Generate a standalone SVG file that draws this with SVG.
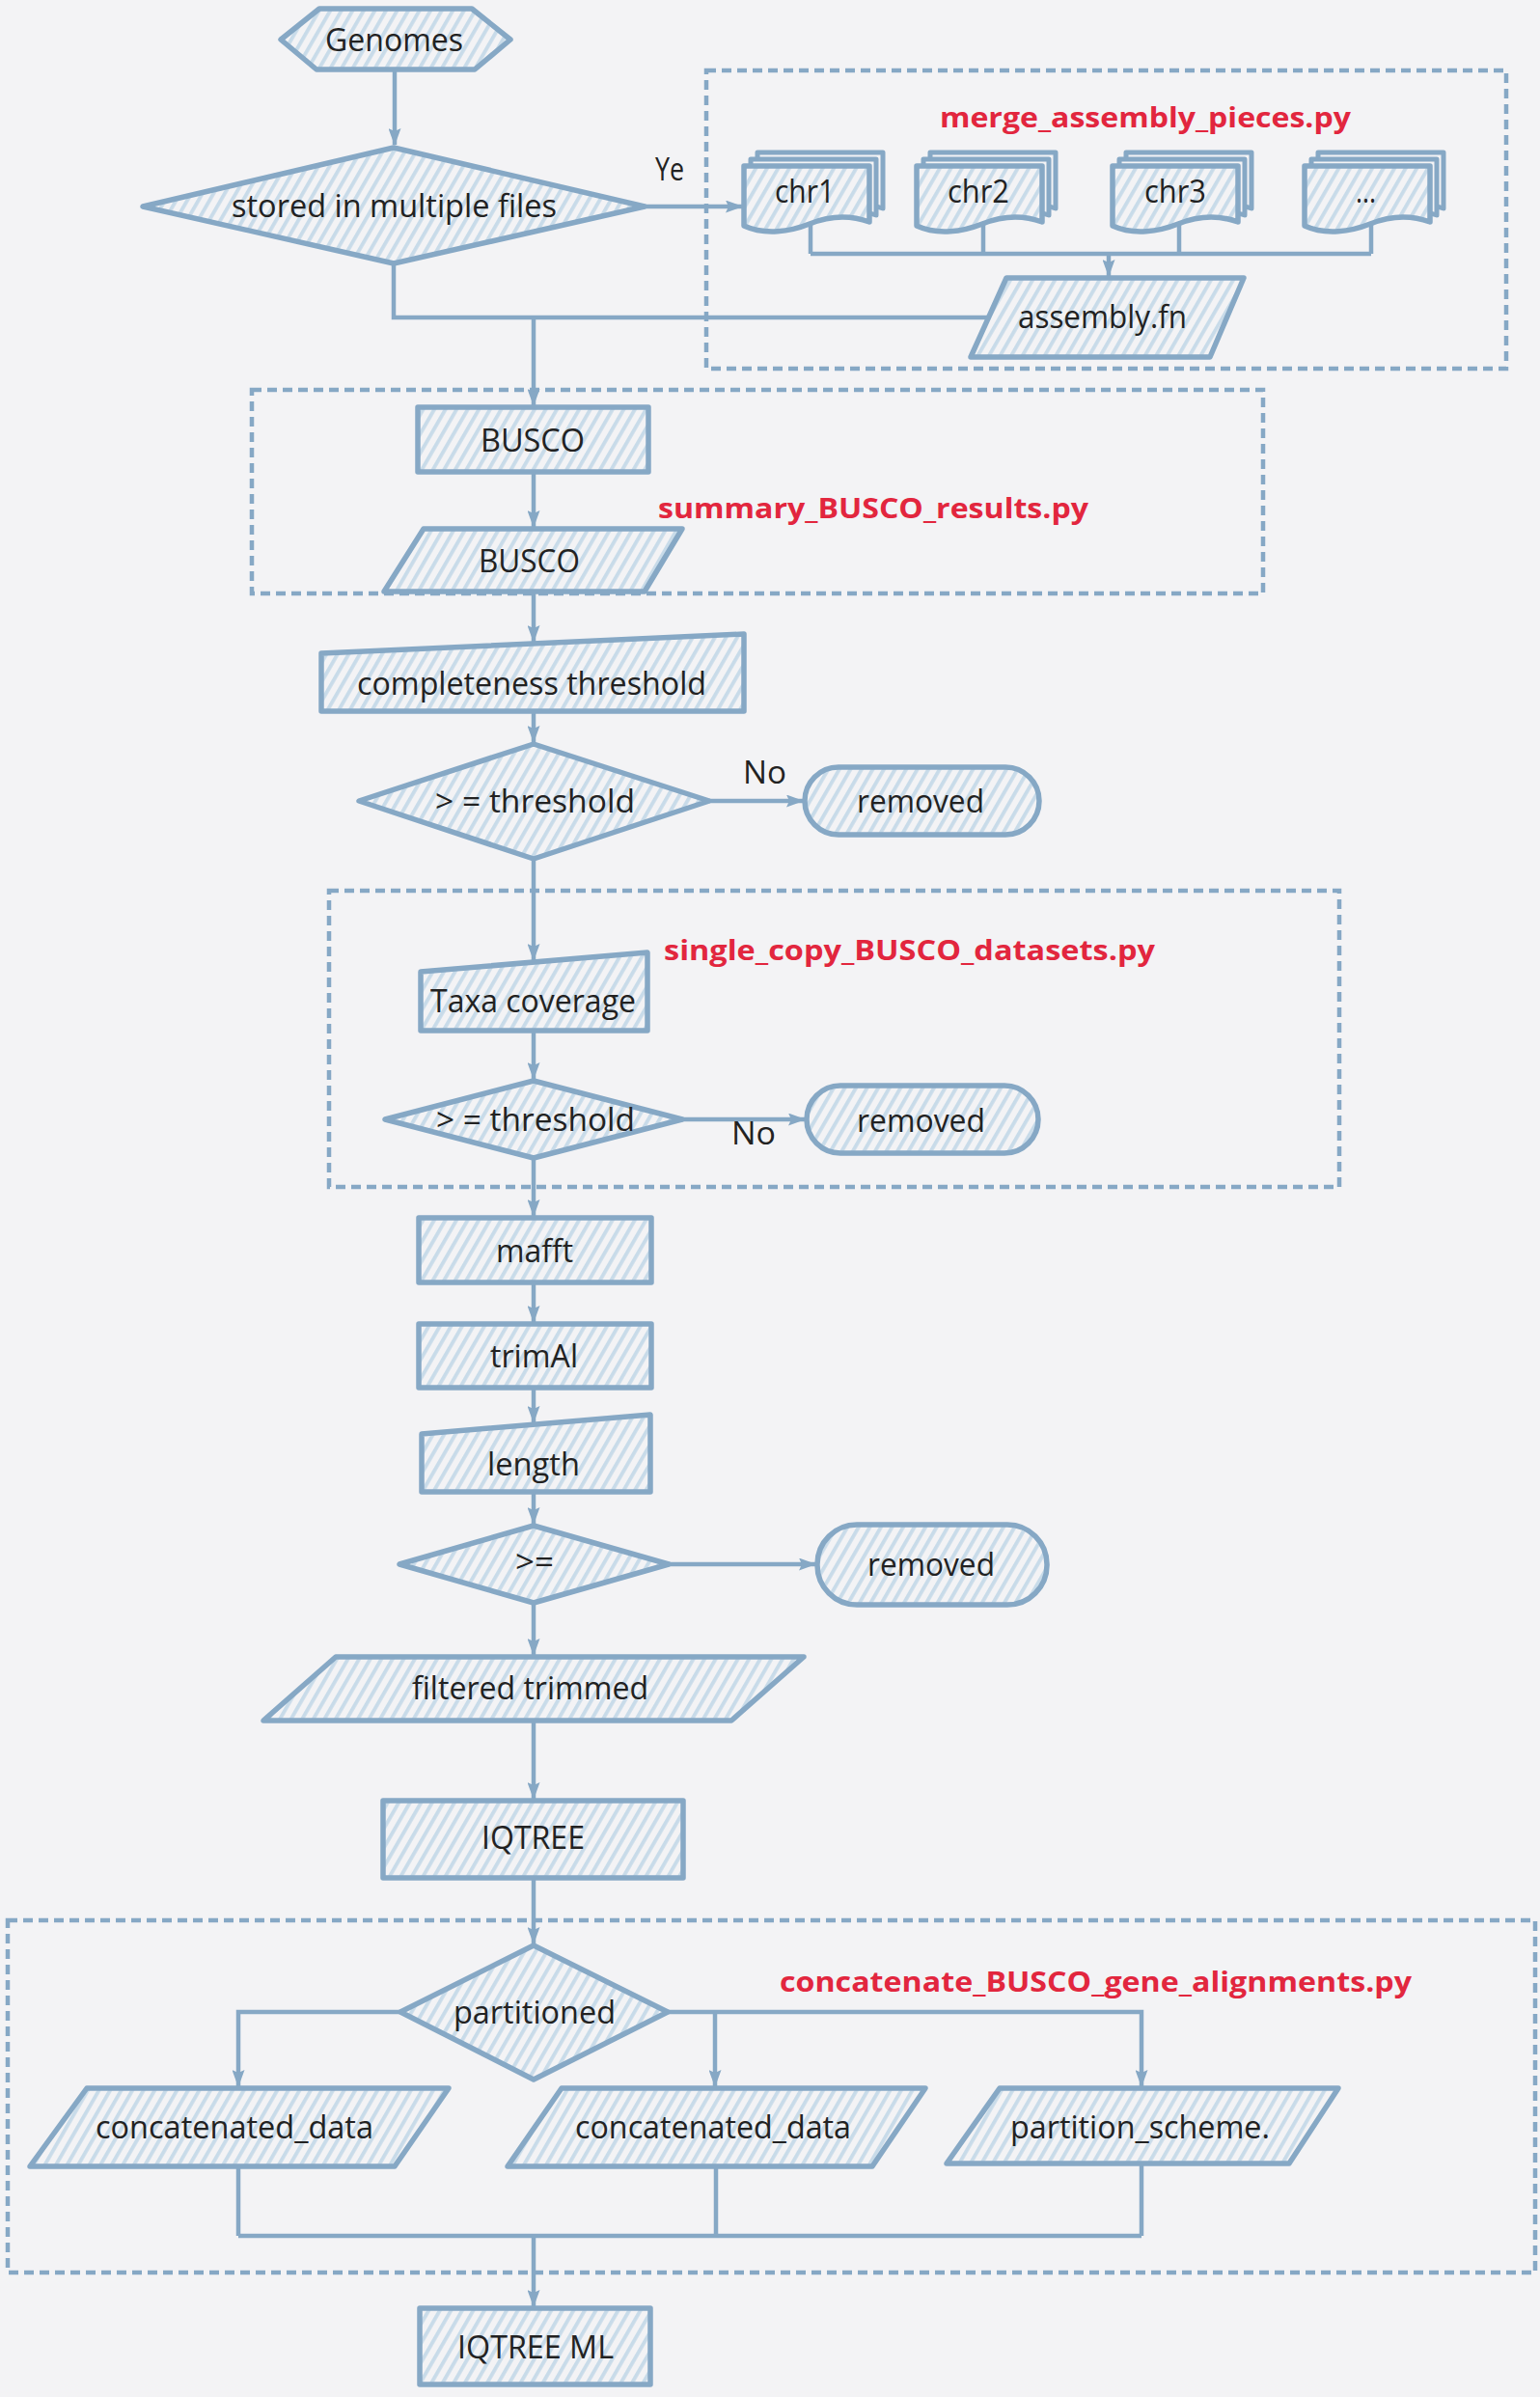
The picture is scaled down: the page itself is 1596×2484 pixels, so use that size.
<svg xmlns="http://www.w3.org/2000/svg" width="1596" height="2484" viewBox="0 0 1596 2484">
<style>
.bg{fill:#f3f3f5}
.n{fill:url(#hatch);stroke:#86a8c5;stroke-width:5.5;stroke-linejoin:round}
.pg{fill:#f3f3f5;stroke:#86a8c5;stroke-width:5;stroke-linejoin:round}
.c{fill:none;stroke:#86a8c5;stroke-width:4.5}
.grp{fill:none;stroke:#86a8c5;stroke-width:4.5;stroke-dasharray:10 6}
.t{font-family:"Open Sans","Noto Sans","Liberation Sans",sans-serif;font-size:33px;fill:#222}
.r{font-family:"Open Sans","Noto Sans","Liberation Sans",sans-serif;font-size:29px;font-weight:bold;fill:#e2263e}
</style>
<defs>
<pattern id="hatch" patternUnits="userSpaceOnUse" width="10" height="10" patternTransform="rotate(30)">
<rect width="10" height="10" fill="#f3f3f5"/>
<rect width="3.8" height="10" fill="#c8dbe9"/>
</pattern>
<marker id="arr" markerUnits="userSpaceOnUse" viewBox="0 0 18 13" refX="17" refY="6.5" markerWidth="18" markerHeight="13" orient="auto">
<path d="M0,0 L18,6.5 L0,13 L3,6.5 Z" fill="#86a8c5"/>
</marker>
<path id="doc" d="M0 0 H130 V58 C108 50 88 52 68 60 C48 68 22 72 0 62 Z"/>
</defs>
<rect class="bg" width="1596" height="2484"/>

<g id="groups">
<rect class="grp" x="732" y="73" width="829" height="309"/>
<rect class="grp" x="261" y="404" width="1048" height="211"/>
<rect class="grp" x="341" y="923" width="1047" height="307"/>
<rect class="grp" x="8" y="1990" width="1583" height="365"/>
</g>

<g id="connectors">
<path class="c" d="M409 73 V150" marker-end="url(#arr)"/>
<path class="c" d="M668 214 H769" marker-end="url(#arr)"/>
<path class="c" d="M408 273 V329 H1024"/>
<path class="c" d="M553 329 V420" marker-end="url(#arr)"/>
<path class="c" d="M840 232 V263 M1019 232 V263 M1222 232 V263 M1421 232 V263 M840 263 H1421"/>
<path class="c" d="M1149 263 V286" marker-end="url(#arr)"/>
<path class="c" d="M553 490 V546" marker-end="url(#arr)"/>
<path class="c" d="M553 613 V665" marker-end="url(#arr)"/>
<path class="c" d="M553 737 V769" marker-end="url(#arr)"/>
<path class="c" d="M735 830 H832" marker-end="url(#arr)"/>
<path class="c" d="M553 890 V995" marker-end="url(#arr)"/>
<path class="c" d="M553 1068 V1118" marker-end="url(#arr)"/>
<path class="c" d="M707 1160 H834" marker-end="url(#arr)"/>
<path class="c" d="M553 1200 V1260" marker-end="url(#arr)"/>
<path class="c" d="M553 1329 V1370" marker-end="url(#arr)"/>
<path class="c" d="M553 1438 V1474" marker-end="url(#arr)"/>
<path class="c" d="M553 1546 V1579" marker-end="url(#arr)"/>
<path class="c" d="M693 1621 H845" marker-end="url(#arr)"/>
<path class="c" d="M553 1661 V1715" marker-end="url(#arr)"/>
<path class="c" d="M553 1783 V1864" marker-end="url(#arr)"/>
<path class="c" d="M553 1946 V2014" marker-end="url(#arr)"/>
<path class="c" d="M415 2085 H247 V2162" marker-end="url(#arr)"/>
<path class="c" d="M692 2085 H1183 V2162" marker-end="url(#arr)"/>
<path class="c" d="M741 2085 V2162" marker-end="url(#arr)"/>
<path class="c" d="M247 2245 V2317 M742 2245 V2317 M1183 2242 V2317 M247 2317 H1183"/>
<path class="c" d="M553 2317 V2390" marker-end="url(#arr)"/>
</g>

<g id="labels">
<text class="t" x="679" y="187" textLength="30" lengthAdjust="spacingAndGlyphs">Ye</text>
<text class="t" x="770" y="812" textLength="45" lengthAdjust="spacingAndGlyphs">No</text>
<text class="t" x="758" y="1186" textLength="46" lengthAdjust="spacingAndGlyphs">No</text>
<text class="r" x="974" y="132" textLength="426" lengthAdjust="spacingAndGlyphs">merge_assembly_pieces.py</text>
<text class="r" x="682" y="537" textLength="446" lengthAdjust="spacingAndGlyphs">summary_BUSCO_results.py</text>
<text class="r" x="688" y="995" textLength="509" lengthAdjust="spacingAndGlyphs">single_copy_BUSCO_datasets.py</text>
<text class="r" x="808" y="2064" textLength="655" lengthAdjust="spacingAndGlyphs">concatenate_BUSCO_gene_alignments.py</text>
</g>

<g id="genomes">
<polygon class="n" points="291,41 331,9 489,9 529,41 492,72 328,72"/>
<text class="t" x="337" y="53" textLength="143" lengthAdjust="spacingAndGlyphs">Genomes</text>
</g>
<g id="stored">
<polygon class="n" points="148,214 408,153 668,214 408,273"/>
<text class="t" x="240" y="225" textLength="337" lengthAdjust="spacingAndGlyphs">stored in multiple files</text>
</g>
<g id="chr1">
<use href="#doc" class="pg" x="785" y="158"/>
<use href="#doc" class="pg" x="778" y="165"/>
<use href="#doc" class="n" x="771" y="172"/>
<text class="t" x="803" y="210" textLength="62" lengthAdjust="spacingAndGlyphs">chr1</text>
</g>
<g id="chr2">
<use href="#doc" class="pg" x="964" y="158"/>
<use href="#doc" class="pg" x="957" y="165"/>
<use href="#doc" class="n" x="950" y="172"/>
<text class="t" x="982" y="210" textLength="64" lengthAdjust="spacingAndGlyphs">chr2</text>
</g>
<g id="chr3">
<use href="#doc" class="pg" x="1167" y="158"/>
<use href="#doc" class="pg" x="1160" y="165"/>
<use href="#doc" class="n" x="1153" y="172"/>
<text class="t" x="1186" y="210" textLength="64" lengthAdjust="spacingAndGlyphs">chr3</text>
</g>
<g id="chrmore">
<use href="#doc" class="pg" x="1366" y="158"/>
<use href="#doc" class="pg" x="1359" y="165"/>
<use href="#doc" class="n" x="1352" y="172"/>
<text class="t" x="1405" y="210" textLength="21" lengthAdjust="spacingAndGlyphs">...</text>
</g>
<g id="assembly">
<polygon class="n" points="1043,288 1289,288 1254,370 1006,370"/>
<text class="t" x="1055" y="340" textLength="175" lengthAdjust="spacingAndGlyphs">assembly.fn</text>
</g>
<g id="busco1">
<rect class="n" x="433" y="422" width="239" height="67"/>
<text class="t" x="498" y="468" textLength="108" lengthAdjust="spacingAndGlyphs">BUSCO</text>
</g>
<g id="busco2">
<polygon class="n" points="439,548 707,548 668,613 398,613"/>
<text class="t" x="496" y="593" textLength="105" lengthAdjust="spacingAndGlyphs">BUSCO</text>
</g>
<g id="completeness">
<polygon class="n" points="333,677 771,657 771,737 333,737"/>
<text class="t" x="370" y="720" textLength="362" lengthAdjust="spacingAndGlyphs">completeness threshold</text>
</g>
<g id="decision1">
<polygon class="n" points="372,830 553,771 735,830 553,890"/>
<text class="t" x="451" y="842" textLength="207" lengthAdjust="spacingAndGlyphs">&gt; = threshold</text>
</g>
<g id="removed1">
<rect class="n" x="834" y="795" width="243" height="70" rx="35"/>
<text class="t" x="888" y="842" textLength="132" lengthAdjust="spacingAndGlyphs">removed</text>
</g>
<g id="taxa">
<polygon class="n" points="436,1007 671,987 671,1068 436,1068"/>
<text class="t" x="446" y="1049" textLength="213" lengthAdjust="spacingAndGlyphs">Taxa coverage</text>
</g>
<g id="decision2">
<polygon class="n" points="399,1160 553,1120 707,1160 553,1200"/>
<text class="t" x="452" y="1172" textLength="206" lengthAdjust="spacingAndGlyphs">&gt; = threshold</text>
</g>
<g id="removed2">
<rect class="n" x="836" y="1125" width="240" height="70" rx="35"/>
<text class="t" x="888" y="1173" textLength="133" lengthAdjust="spacingAndGlyphs">removed</text>
</g>
<g id="mafft">
<rect class="n" x="434" y="1262" width="241" height="67"/>
<text class="t" x="514" y="1308" textLength="80" lengthAdjust="spacingAndGlyphs">mafft</text>
</g>
<g id="trimal">
<rect class="n" x="434" y="1372" width="241" height="66"/>
<text class="t" x="508" y="1417" textLength="91" lengthAdjust="spacingAndGlyphs">trimAl</text>
</g>
<g id="length">
<polygon class="n" points="437,1486 674,1466 674,1546 437,1546"/>
<text class="t" x="505" y="1529" textLength="96" lengthAdjust="spacingAndGlyphs">length</text>
</g>
<g id="decision3">
<polygon class="n" points="414,1621 553,1581 693,1621 553,1661"/>
<text class="t" x="534" y="1630" textLength="40" lengthAdjust="spacingAndGlyphs">&gt;=</text>
</g>
<g id="removed3">
<rect class="n" x="847" y="1580" width="238" height="83" rx="41"/>
<text class="t" x="899" y="1633" textLength="132" lengthAdjust="spacingAndGlyphs">removed</text>
</g>
<g id="filtered">
<polygon class="n" points="348,1717 833,1717 758,1783 273,1783"/>
<text class="t" x="427" y="1761" textLength="245" lengthAdjust="spacingAndGlyphs">filtered trimmed</text>
</g>
<g id="iqtree">
<rect class="n" x="397" y="1866" width="311" height="80"/>
<text class="t" x="499" y="1916" textLength="107" lengthAdjust="spacingAndGlyphs">IQTREE</text>
</g>
<g id="partitioned">
<polygon class="n" points="415,2085 553,2016 692,2085 553,2155"/>
<text class="t" x="470" y="2097" textLength="168" lengthAdjust="spacingAndGlyphs">partitioned</text>
</g>
<g id="concat1">
<polygon class="n" points="90,2164 465,2164 409,2245 31,2245"/>
<text class="t" x="99" y="2216" textLength="288" lengthAdjust="spacingAndGlyphs">concatenated_data</text>
</g>
<g id="concat2">
<polygon class="n" points="582,2164 959,2164 904,2245 526,2245"/>
<text class="t" x="596" y="2216" textLength="286" lengthAdjust="spacingAndGlyphs">concatenated_data</text>
</g>
<g id="partition">
<polygon class="n" points="1036,2164 1387,2164 1336,2242 981,2242"/>
<text class="t" x="1047" y="2216" textLength="269" lengthAdjust="spacingAndGlyphs">partition_scheme.</text>
</g>
<g id="iqtreeml">
<rect class="n" x="435" y="2392" width="239" height="79"/>
<text class="t" x="474" y="2444" textLength="162" lengthAdjust="spacingAndGlyphs">IQTREE ML</text>
</g>
</svg>
